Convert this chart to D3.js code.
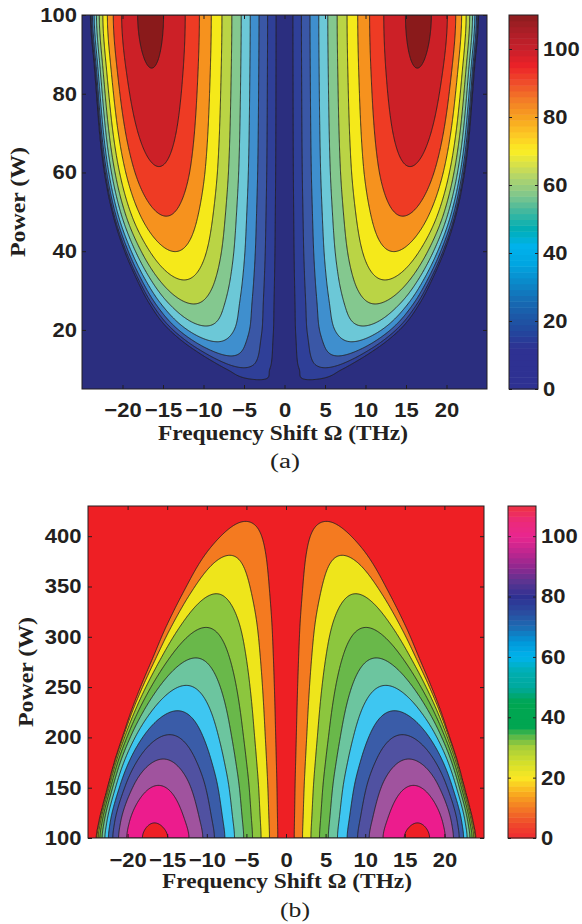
<!DOCTYPE html>
<html><head><meta charset="utf-8">
<script src="https://cdn.jsdelivr.net/npm/d3@7"></script>
<style>body{margin:0;background:#fff}svg{display:block}</style>
</head><body>
<svg id="fig" width="582" height="924"></svg>
<script>
// Modulation-instability gain versus pump power:
// peak gain, frequency of the peak and cut-off frequency of the gain band
const powerW      = [5.5, 7.2, 7.8, 9.8, 11.5, 13.4, 17.0, 21.0, 26.6, 32.7, 39.9, 48.9, 61.5, 86.5, 100,  115,  152.3, 178.5, 202.7, 226.5, 251.7, 279.0, 309.3, 342.8, 381.0, 414.7, 430];
const peakGain    = [0,   9,   13,  18,  24,   30,   40,   50,   60,   70,   80,   90,   100,  110,  112,  110,  100,   90,    80,    70,    60,    50,    40,    30,    20,    10,    5];
const peakOmega   = [1.8, 3.0, 3.6, 4.7, 5.6,  6.6,  8.3,  9.7,  11.2, 12.4, 13.5, 14.6, 15.5, 16.4, 16.6, 16.6, 16.1,  15.5,  14.7,  13.7,  12.6,  11.4,  10.1,  8.8,   7.1,   5.1,   4.2];
const cutoffOmega = [3.0, 5.0, 6.3, 7.8, 9.0,  10.4, 12.8, 14.9, 16.8, 18.3, 19.8, 21.2, 22.4, 23.5, 24.0, 23.7, 22.5,  21.6,  20.6,  19.6,  18.4,  17.0,  15.5,  13.5,  11.0,  8.0,   6.5];

const levels       = [10, 20, 30, 40, 50, 60, 70, 80, 90, 100, 110];
const omegaTicks   = [-20, -15, -10, -5, 0, 5, 10, 15, 20];
const powerTicksA  = [20, 40, 60, 80, 100];
const powerTicksB  = [100, 150, 200, 250, 300, 350, 400];
const cbarTicks    = [0, 20, 40, 60, 80, 100];

// fill colour of each band (below 10, 10-20, ..., above 110)
const bandColorsA = ["#2b2e7f","#2f3f98","#3a57a6","#3f8fce","#6cc8d7","#84c88f","#bad445","#f5e91a","#f6921e","#ee3b24","#cc2027","#8a1a1b"];
const bandColorsB = ["#ee1f24","#f47a20","#eee51b","#8cc63e","#69b84a","#6cc59f","#3ec6f1","#3a5ca8","#5051a1","#a0539e","#ec1c8d","#ee1f24"];

// colour-bar palettes (value, colour)
const cbarStopsA = [[0,"#2e3192"],[12,"#2e3192"],[17,"#23479d"],[22,"#1b5aa8"],[27,"#1471b7"],[32,"#0a8ccc"],[37,"#00a6e2"],[42,"#00b2ec"],[47,"#00aeb5"],[52,"#3db7a0"],[57,"#80c68c"],[62,"#aed46e"],[66,"#d6e04a"],[70,"#fbee23"],[75,"#fcc725"],[80,"#f7a11f"],[85,"#f37d27"],[90,"#ef4e2a"],[95,"#ec2228"],[100,"#c8202b"],[105,"#ad1e27"],[110,"#8b1d1f"]];
const cbarStopsB = [[0,"#ee2a31"],[5,"#ef4b2b"],[10,"#f37a24"],[15,"#f9ad1f"],[20,"#fbe824"],[25,"#d3df2a"],[30,"#a8cf3a"],[33,"#6cbd45"],[37,"#00a651"],[45,"#00a651"],[50,"#00a99d"],[55,"#00aeb0"],[60,"#00b3ec"],[65,"#0098da"],[70,"#1c6bb3"],[75,"#2b4b9f"],[80,"#2e3192"],[85,"#5b3491"],[90,"#92278f"],[95,"#c1268f"],[100,"#e9268f"],[105,"#ec2a7a"],[110,"#ef3340"]];

const clim = [0, 110];
const omegaDomain = [-25, 25];

const svg = d3.select("#fig");
const STRETCH = 1.1;
const INK = "#231f20";

// monotone cubic (Fritsch–Carlson) through tabulated readings
function monotone(xs, ys) {
  const n = xs.length, d = [], m = new Array(n);
  for (let i = 0; i < n - 1; i++) d.push((ys[i+1]-ys[i])/(xs[i+1]-xs[i]));
  m[0] = d[0]; m[n-1] = d[n-2];
  for (let i = 1; i < n - 1; i++) m[i] = d[i-1]*d[i] <= 0 ? 0 : (d[i-1]+d[i])/2;
  for (let i = 0; i < n - 1; i++) {
    if (d[i] === 0) { m[i] = 0; m[i+1] = 0; continue; }
    const a = m[i]/d[i], b = m[i+1]/d[i], s = a*a + b*b;
    if (s > 9) { const t = 3/Math.sqrt(s); m[i] = t*a*d[i]; m[i+1] = t*b*d[i]; }
  }
  return x => {
    if (x <= xs[0]) return ys[0];
    if (x >= xs[n-1]) return ys[n-1];
    const i = Math.min(n - 2, d3.bisectRight(xs, x) - 1);
    const h = xs[i+1]-xs[i], t = (x-xs[i])/h, t2 = t*t, t3 = t2*t;
    return (2*t3-3*t2+1)*ys[i] + (t3-2*t2+t)*h*m[i] + (-2*t3+3*t2)*ys[i+1] + (t3-t2)*h*m[i+1];
  };
}
const peakAt   = monotone(powerW, peakGain);
const omegaPAt = monotone(powerW, peakOmega);
const cutoffAt = monotone(powerW, cutoffOmega);

// gain spectrum: rises linearly from Ω = 0, peaks (value G) at Ωp, vanishes at Ωc
//   g = G · (u/up) · ((1 − u²)/(1 − up²))^c,  u = |Ω|/Ωc,  c = (1/up² − 1)/2
function gain(omega, p) {
  const G = Math.max(0, peakAt(p));
  const oc = Math.max(0.5, cutoffAt(p));
  const up = Math.min(0.95, Math.max(0.3, omegaPAt(p) / oc));
  const u = Math.abs(omega) / oc;
  if (u >= 1 || G <= 0) return 0;
  const c = (1 / (up * up) - 1) / 2;
  return G * (u / up) * Math.pow((1 - u * u) / (1 - up * up), c);
}

function stretchText(sel, sx) {
  sel.each(function () {
    const t = d3.select(this);
    const x = +t.attr("x") || 0;
    t.attr("x", x / sx).attr("transform", `scale(${sx},1)`);
  });
}

function drawPanel(cfg) {
  const x = d3.scaleLinear().domain(omegaDomain).range([cfg.x0, cfg.x1]);
  const y = d3.scaleLinear().domain([cfg.pMin, cfg.pMax]).range([cfg.y1, cfg.y0]);
  const g = svg.append("g");
  const clipId = "clip" + cfg.id;
  svg.append("clipPath").attr("id", clipId).append("rect")
    .attr("x", cfg.x0).attr("y", cfg.y0).attr("width", cfg.x1 - cfg.x0).attr("height", cfg.y1 - cfg.y0);

  // sampled gain field (cell-centred grid)
  const nx = 500, ny = 420;
  const dO = (omegaDomain[1] - omegaDomain[0]) / nx, dP = (cfg.pMax - cfg.pMin) / ny;
  const values = new Float64Array(nx * ny);
  for (let j = 0; j < ny; j++) {
    const p = cfg.pMin + (j + 0.5) * dP;
    for (let i = 0; i < nx; i++) values[j * nx + i] = gain(omegaDomain[0] + (i + 0.5) * dO, p);
  }
  const polys = d3.contours().size([nx, ny]).thresholds(levels)(values);
  const proj = d3.geoTransform({
    point(gx, gy) { this.stream.point(x(omegaDomain[0] + gx * dO), y(cfg.pMin + gy * dP)); }
  });
  const path = d3.geoPath(proj);

  const field = g.append("g").attr("clip-path", `url(#${clipId})`);
  field.append("rect").attr("x", cfg.x0).attr("y", cfg.y0)
    .attr("width", cfg.x1 - cfg.x0).attr("height", cfg.y1 - cfg.y0)
    .attr("fill", cfg.colors[0]);
  field.selectAll("path.band").data(polys).join("path").attr("class", "band")
    .attr("d", path)
    .attr("fill", (d, i) => cfg.colors[i + 1])
    .attr("stroke", INK).attr("stroke-width", 0.9).attr("stroke-linejoin", "round");

  // axes box with inward ticks on all sides
  const tl = 4;
  const font = "Liberation Sans, Arial, Helvetica, sans-serif";
  const axB = g.append("g").attr("transform", `translate(0,${cfg.y1})`)
    .call(d3.axisBottom(x).tickValues(omegaTicks).tickSize(-tl)
      .tickFormat(d => d < 0 ? "\u2212" + Math.abs(d) : String(d)));
  const axT = g.append("g").attr("transform", `translate(0,${cfg.y0})`)
    .call(d3.axisTop(x).tickValues(omegaTicks).tickSize(-tl).tickFormat(""));
  const axL = g.append("g").attr("transform", `translate(${cfg.x0},0)`)
    .call(d3.axisLeft(y).tickValues(cfg.pTicks).tickSize(-tl).tickPadding(cfg.yPad));
  const axR = g.append("g").attr("transform", `translate(${cfg.x1},0)`)
    .call(d3.axisRight(y).tickValues(cfg.pTicks).tickSize(-tl).tickFormat(""));
  [axB, axT, axL, axR].forEach(a => {
    a.select(".domain").remove();
    a.selectAll("line").attr("stroke", INK).attr("stroke-width", 1);
    a.selectAll("text").attr("font-family", font).attr("font-weight", "bold")
      .attr("font-size", 20).attr("fill", INK);
  });
  axB.selectAll("text").attr("dy", null).attr("y", cfg.tickBase - cfg.y1);
  stretchText(axB.selectAll("text"), STRETCH);
  stretchText(axL.selectAll("text"), STRETCH);
  g.append("rect").attr("x", cfg.x0).attr("y", cfg.y0)
    .attr("width", cfg.x1 - cfg.x0).attr("height", cfg.y1 - cfg.y0)
    .attr("fill", "none").attr("stroke", INK).attr("stroke-width", 1);

  // colour bar
  const cy = d3.scaleLinear().domain(clim).range([cfg.y1, cfg.y0]);
  const stopScale = d3.scaleLinear().domain(cfg.stops.map(s => s[0])).range(cfg.stops.map(s => s[1]))
    .interpolate(d3.interpolateRgb);
  const nC = 64, step = (clim[1] - clim[0]) / nC;
  const cells = d3.range(nC).map(k => clim[0] + k * step);
  g.append("g").selectAll("rect").data(cells).join("rect")
    .attr("x", cfg.cb0).attr("width", cfg.cb1 - cfg.cb0)
    .attr("y", d => cy(d + step)).attr("height", d => cy(d) - cy(d + step) + 0.5)
    .attr("fill", d => stopScale(d + step / 2));
  const cbR = g.append("g").attr("transform", `translate(${cfg.cb1},0)`)
    .call(d3.axisRight(cy).tickValues(cbarTicks).tickSize(-3).tickPadding(5));
  const cbL = g.append("g").attr("transform", `translate(${cfg.cb0},0)`)
    .call(d3.axisLeft(cy).tickValues(cbarTicks).tickSize(-3).tickFormat(""));
  [cbR, cbL].forEach(a => {
    a.select(".domain").remove();
    a.selectAll("line").attr("stroke", INK);
    a.selectAll("text").attr("font-family", font).attr("font-weight", "bold")
      .attr("font-size", 20).attr("fill", INK);
  });
  stretchText(cbR.selectAll("text"), STRETCH);
  g.append("rect").attr("x", cfg.cb0).attr("y", cfg.y0)
    .attr("width", cfg.cb1 - cfg.cb0).attr("height", cfg.y1 - cfg.y0)
    .attr("fill", "none").attr("stroke", INK).attr("stroke-width", 1);

  // axis titles and panel tag
  const serif = "Liberation Serif, Times New Roman, Times, serif";
  g.append("text").attr("x", cfg.xlabelX).attr("y", cfg.xlabelBase)
    .attr("text-anchor", "middle").attr("font-family", serif).attr("font-weight", "bold")
    .attr("font-size", 20).attr("fill", INK)
    .attr("textLength", cfg.xlabelLen).attr("lengthAdjust", "spacingAndGlyphs")
    .text("Frequency Shift \u03A9 (THz)");
  g.append("text").attr("transform", `translate(${cfg.ylabelBase},${(cfg.y0 + cfg.y1) / 2}) rotate(-90)`)
    .attr("text-anchor", "middle").attr("font-family", serif).attr("font-weight", "bold")
    .attr("font-size", 20).attr("fill", INK)
    .attr("textLength", 110).attr("lengthAdjust", "spacingAndGlyphs")
    .text("Power (W)");
  g.append("text").attr("x", cfg.tagX).attr("y", cfg.tagBase)
    .attr("text-anchor", "middle").attr("font-family", serif)
    .attr("font-size", 20).attr("fill", INK)
    .attr("textLength", 30).attr("lengthAdjust", "spacingAndGlyphs")
    .text(cfg.tag);
}

drawPanel({ id: "a", x0: 82, x1: 487, y0: 15, y1: 389, pMin: 5, pMax: 100, pTicks: powerTicksA, yPad: 5,
  cb0: 509, cb1: 538, colors: bandColorsA, stops: cbarStopsA, tickBase: 417,
  xlabelX: 283, xlabelBase: 440, xlabelLen: 250, ylabelBase: 25, tagX: 285, tagBase: 468, tag: "(a)" });
drawPanel({ id: "b", x0: 88, x1: 484, y0: 506, y1: 838, pMin: 100, pMax: 430, pTicks: powerTicksB, yPad: 6.5,
  cb0: 508, cb1: 536, colors: bandColorsB, stops: cbarStopsB, tickBase: 867,
  xlabelX: 287, xlabelBase: 888, xlabelLen: 250, ylabelBase: 33, tagX: 295, tagBase: 917, tag: "(b)" });
</script>
</body></html>
